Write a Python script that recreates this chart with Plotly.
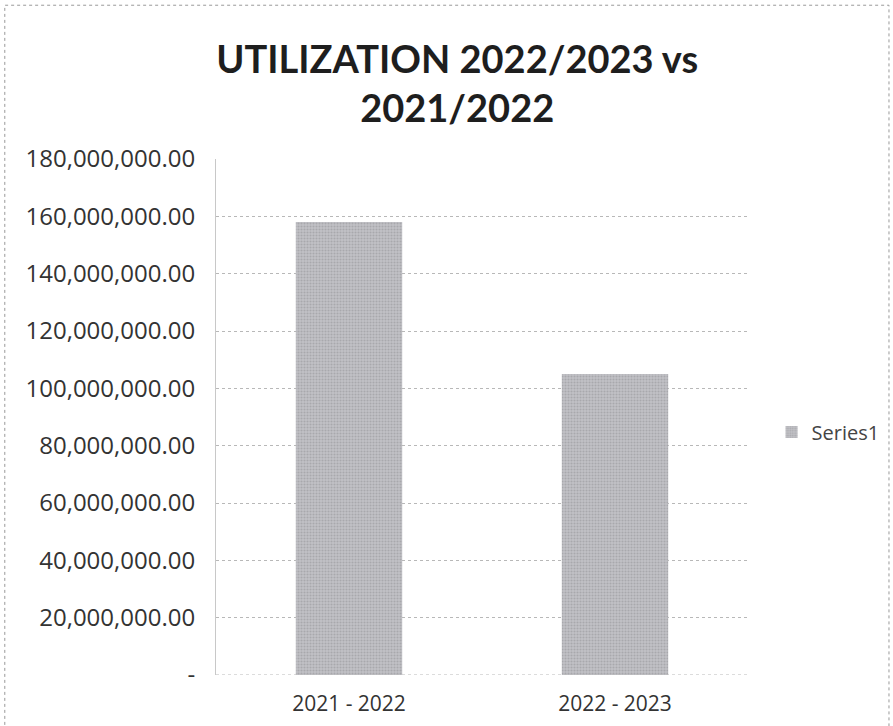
import plotly.graph_objects as go

categories = ["2021 - 2022", "2022 - 2023"]
series1 = [158000000, 105000000]
tick_vals = [0, 20000000, 40000000, 60000000, 80000000, 100000000, 120000000, 140000000, 160000000, 180000000]
tick_text = ["-"] + [f"{v:,.2f}" for v in tick_vals[1:]]

tick_font = "'Open Sans', sans-serif"
title_font = "Lato, 'Open Sans', sans-serif"

fig = go.Figure()
fig.add_trace(go.Bar(
    x=categories, y=series1, name="Series1",
    marker=dict(color="#B4B4B8", line=dict(width=0),
                pattern=dict(shape=".", fgcolor="#8E8E94", bgcolor="#C2C2C6", size=3, solidity=0.4)),
    width=0.4,
))

fig.update_layout(
    width=893, height=726,
    margin=dict(l=216, r=145, t=159, b=51, autoexpand=False),
    paper_bgcolor="white", plot_bgcolor="white",
    title=dict(text="<b>UTILIZATION 2022/2023 vs<br>2021/2022</b>", x=0.512, xanchor="center",
               y=0.9, yanchor="middle",
               font=dict(family=title_font, size=38, color="#1E1E1E")),
    font=dict(family=tick_font, size=16, color="#333333"),
    showlegend=True,
    legend=dict(xref="container", yref="container", x=0.864, y=0.405, xanchor="left", yanchor="middle",
                font=dict(size=20, color="#444444"), itemwidth=30, bgcolor="rgba(0,0,0,0)"),
    xaxis=dict(showgrid=False, showline=False, ticks="", ticklabelstandoff=14,
               tickfont=dict(size=21, color="#333333")),
    yaxis=dict(range=[0, 180000000], tickvals=tick_vals, ticktext=tick_text,
               showgrid=True, gridcolor="#B8B8B8", griddash="dot", gridwidth=1,
               showline=True, linecolor="#C8C8C8", linewidth=1, ticks="",
               ticklabelstandoff=15, zeroline=False,
               tickfont=dict(size=24, color="#333333")),
    shapes=[dict(type="rect", xref="paper", yref="paper", x0=-0.397, x1=1.265, y0=-0.2, y1=1.298,
                 line=dict(color="#999999", width=1, dash="dot"), layer="below")],
)
fig.add_shape(type="line", xref="paper", yref="y", x0=0, x1=1, y0=0, y1=0,
              line=dict(color="#B8B8B8", width=1, dash="dot"))

fig.write_html("out.html", config={"displayModeBar": False},
               post_script="document.body.style.margin='0';document.body.style.overflow='hidden';")
